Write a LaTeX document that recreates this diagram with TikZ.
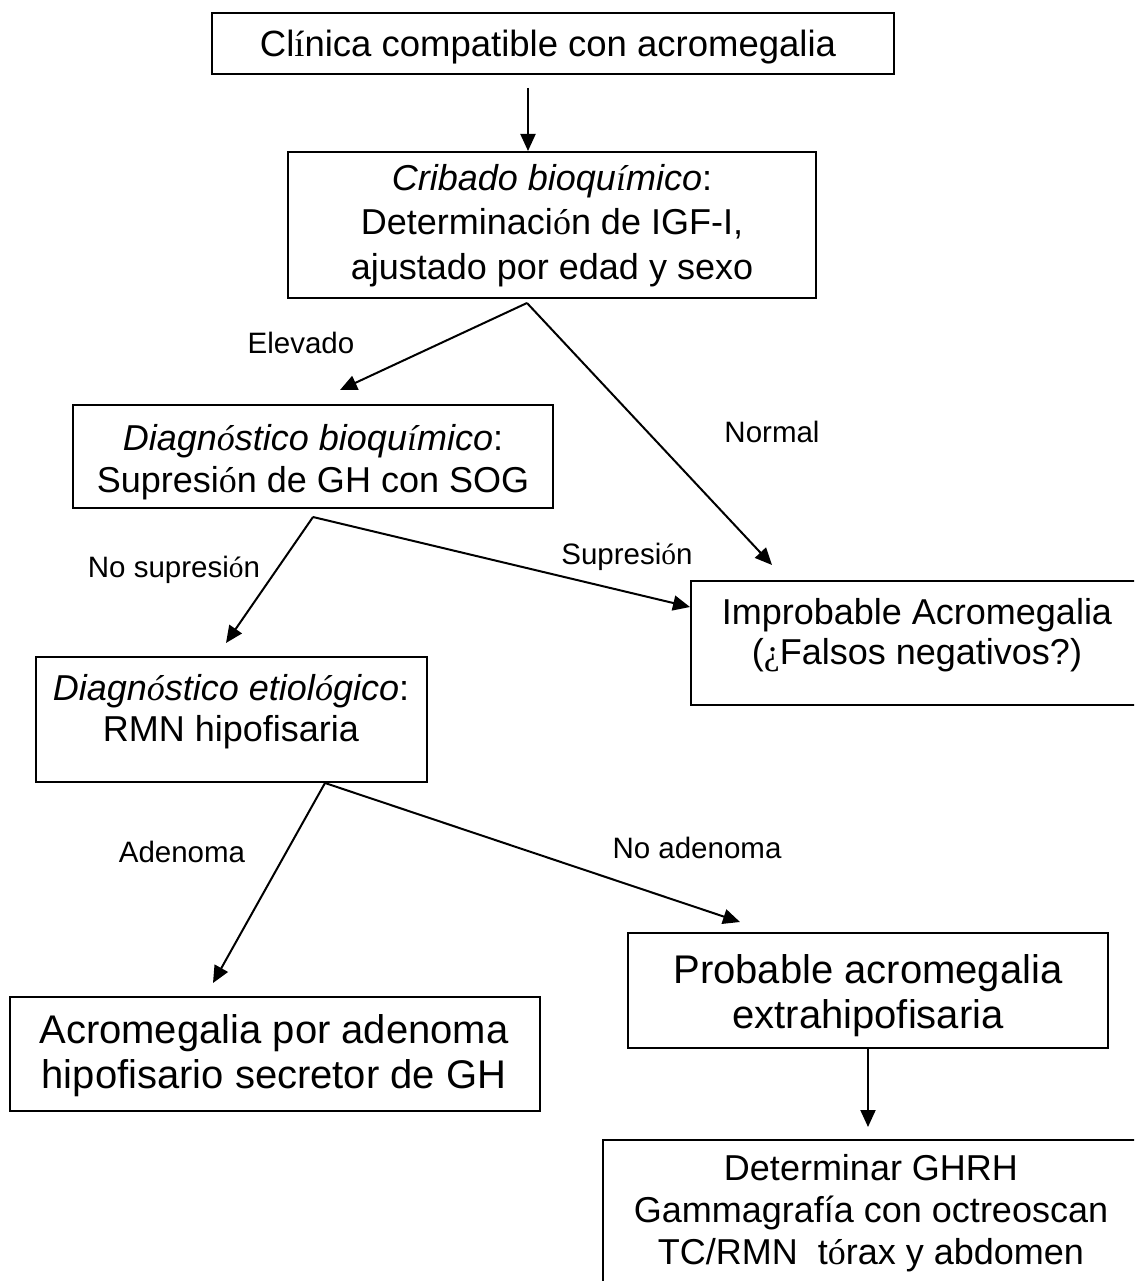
\documentclass[tikz,border=0pt]{standalone}
\usepackage{fontspec}
\setmainfont{Liberation Sans}
\newfontfamily\tms{Liberation Serif}
\usetikzlibrary{arrows.meta}
\begin{document}
\begin{tikzpicture}[x=1pt,y=-1pt,
  box/.style={draw=black, line width=2pt, inner sep=0pt},
  txt/.style={font=\fontsize{36}{43}\selectfont, inner sep=0pt, anchor=base},
  bigtxt/.style={font=\fontsize{40}{48}\selectfont, inner sep=0pt, anchor=base},
  toptxt/.style={font=\fontsize{36.5}{44}\selectfont, inner sep=0pt, anchor=base},
  lbl/.style={font=\fontsize{29.5}{35}\selectfont, inner sep=0pt},
  arr/.style={line width=2pt, -{Triangle[length=17pt,width=15pt]}}
]
\path[use as bounding box] (0,0) rectangle (1134,1281);
\clip (0,0) rectangle (1134,1281);
\fill[white] (0,0) rectangle (1134,1281);

% boxes
\node[box, minimum width=682pt, minimum height=61pt]  (b1) at (553,43.5) {};
\node[box, minimum width=528pt, minimum height=146pt] (b2) at (552,225) {};
\node[box, minimum width=480pt, minimum height=103pt] (b3) at (313,456.5) {};
\node[box, minimum width=452pt, minimum height=124pt] (b4) at (917,643) {};
\node[box, minimum width=391pt, minimum height=125pt] (b5) at (231.5,719.5) {};
\node[box, minimum width=480pt, minimum height=115pt] (b6) at (868,990.5) {};
\node[box, minimum width=530pt, minimum height=114pt] (b7) at (275,1054) {};
\node[box, minimum width=536pt, minimum height=170pt] (b8) at (871,1225) {};

% texts
\node[toptxt] (t1) at (548,57) {Cl{\tms í}nica compatible con acromegalia};

\node[txt] (t2a) at (552,191) {\textit{Cribado bioqu{\tms í}mico}:};
\node[txt] (t2b) at (552,235) {Determinaci{\tms ó}n de IGF-I,};
\node[txt] (t2c) at (552,279) {ajustado por edad y sexo};

\node[txt] (t3a) at (313,450) {\textit{Diagn{\tms ó}stico bioqu{\tms í}mico}:};
\node[txt] (t3b) at (313,492) {Supresi{\tms ó}n de GH con SOG};

\node[txt] (t4a) at (917,624) {Improbable Acromegalia};
\node[txt] (t4b) at (917,664) {({\tms ¿}Falsos negativos?)};

\node[txt] (t5a) at (231,700) {\textit{Diagn{\tms ó}stico etiol{\tms ó}gico}:};
\node[txt] (t5b) at (231,741) {RMN hipofisaria};

\node[bigtxt] (t6a) at (868,983) {Probable acromegalia};
\node[bigtxt] (t6b) at (868,1028) {extrahipofisaria};

\node[bigtxt] (t7a) at (274,1043) {Acromegalia por adenoma};
\node[bigtxt] (t7b) at (274,1088) {hipofisario secretor de GH};

\node[txt] (t8a) at (871,1180) {Determinar GHRH};
\node[txt] (t8b) at (871,1222) {Gammagraf\'ia con octreoscan};
\node[txt] (t8c) at (871,1264) {TC/RMN\ \ t{\tms ó}rax y abdomen};

% connector points
\coordinate (s1) at (528,88);
\coordinate (a2) at (527,303);
\coordinate (e1) at (340,390);
\coordinate (e2) at (772,565);
\coordinate (a3) at (313,517);
\coordinate (e3) at (226,643);
\coordinate (e4) at (690,607);
\coordinate (a5) at (325,783);
\coordinate (e5) at (213,983);
\coordinate (e6) at (740,922);
\coordinate (e7) at (868,1127);

% connectors
\draw[arr] (s1) -- (s1 |- b2.north);
\draw[arr] (a2) -- (e1);
\draw[arr] (a2) -- (e2);
\draw[arr] (a3) -- (e3);
\draw[arr] (a3) -- (e4);
\draw[arr] (a5) -- (e5);
\draw[arr] (a5) -- (e6);
\draw[arr] (b6.south) -- (e7);

% labels
\node[lbl] (l1) at (301,343) {Elevado};
\node[lbl] (l2) at (772,432) {Normal};
\node[lbl] (l3) at (174,570) {No supresi{\tms ó}n};
\node[lbl] (l4) at (627,557) {Supresi{\tms ó}n};
\node[lbl] (l5) at (182,852) {Adenoma};
\node[lbl] (l6) at (697,848) {No adenoma};
\end{tikzpicture}
\end{document}
